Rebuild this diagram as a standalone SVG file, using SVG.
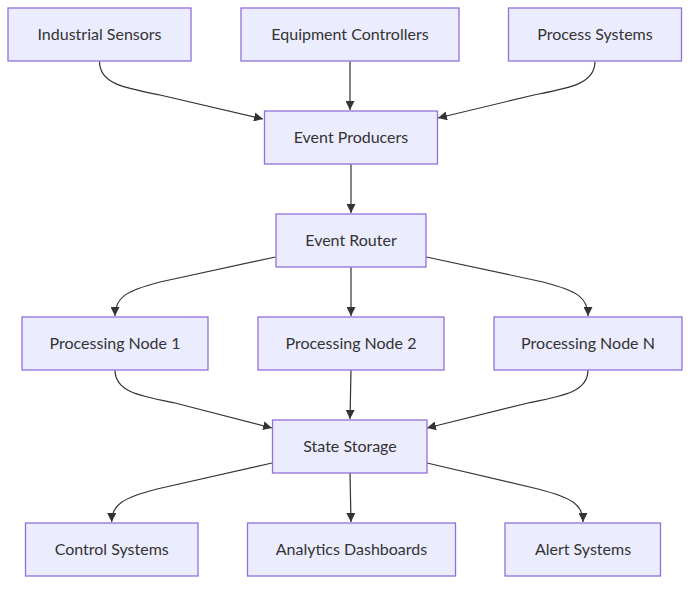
<svg xmlns="http://www.w3.org/2000/svg" width="698" height="590" viewBox="0 0 698 590">
<defs>
<marker id="arrow" viewBox="0 0 10 10" refX="10" refY="5" markerWidth="9" markerHeight="9" markerUnits="userSpaceOnUse" orient="auto">
<path d="M0,0 L10,5 L0,10 z" fill="#333333"/>
</marker>
<style>
.node rect{fill:#ECECFF;stroke:#9370DB;stroke-width:1.3px;}
.node text{font-family:"Trebuchet MS",Lato,"Liberation Sans",sans-serif;font-size:16px;fill:#333333;text-anchor:middle;dominant-baseline:central;}
.edges path{fill:none;stroke:#333333;stroke-width:1.2px;marker-end:url(#arrow);}
</style>
</defs>
<rect width="698" height="590" fill="#ffffff"/>
<g class="edges">
<path d="M99.5,61.5 C99.5,84 125,88 160,95 L263,119"/>
<path d="M350,61.5 L350,110"/>
<path d="M595,61.5 C595,84 569,88 534,95 L438,118"/>
<path d="M351,164.3 L351,213"/>
<path d="M275.5,257 L160,282 C125,291 115,298 115,316"/>
<path d="M351,267.3 L351,316"/>
<path d="M426.3,257 L543,282 C578,291 588,298 588,316"/>
<path d="M115,370 C115,392 140,396 175,403 L272,428"/>
<path d="M351,370 L350,419"/>
<path d="M588,370 C588,392 563,396 528,403 L427,428"/>
<path d="M272,463 L157,489 C122,498 111.7,505 111.7,522"/>
<path d="M350,473 L351,522"/>
<path d="M427,463 L538,489 C573,498 583,505 583,522"/>
</g>
<g id="industrial-sensors" class="node"><rect x="8" y="8" width="183" height="53"/><text x="99.5" y="33.5">Industrial Sensors</text></g>
<g id="equipment-controllers" class="node"><rect x="241" y="8" width="218" height="53"/><text x="350" y="33.5">Equipment Controllers</text></g>
<g id="process-systems" class="node"><rect x="508.5" y="8" width="173" height="53"/><text x="595" y="33.5">Process Systems</text></g>
<g id="event-producers" class="node"><rect x="264.5" y="111" width="173" height="53"/><text x="351" y="136.5">Event Producers</text></g>
<g id="event-router" class="node"><rect x="276" y="214" width="150" height="53"/><text x="351" y="239.5">Event Router</text></g>
<g id="processing-node-1" class="node"><rect x="22" y="317" width="186" height="53"/><text x="115" y="342.5">Processing Node 1</text></g>
<g id="processing-node-2" class="node"><rect x="258" y="317" width="186" height="53"/><text x="351" y="342.5">Processing Node 2</text></g>
<g id="processing-node-n" class="node"><rect x="494" y="317" width="188" height="53"/><text x="588" y="342.5">Processing Node N</text></g>
<g id="state-storage" class="node"><rect x="272.5" y="420" width="154.5" height="53"/><text x="350" y="445.5">State Storage</text></g>
<g id="control-systems" class="node"><rect x="25.5" y="523" width="172.5" height="53"/><text x="111.7" y="548">Control Systems</text></g>
<g id="analytics-dashboards" class="node"><rect x="247.5" y="523" width="208" height="53"/><text x="351.5" y="548">Analytics Dashboards</text></g>
<g id="alert-systems" class="node"><rect x="505" y="523" width="155.5" height="53"/><text x="583" y="548">Alert Systems</text></g>
</svg>
